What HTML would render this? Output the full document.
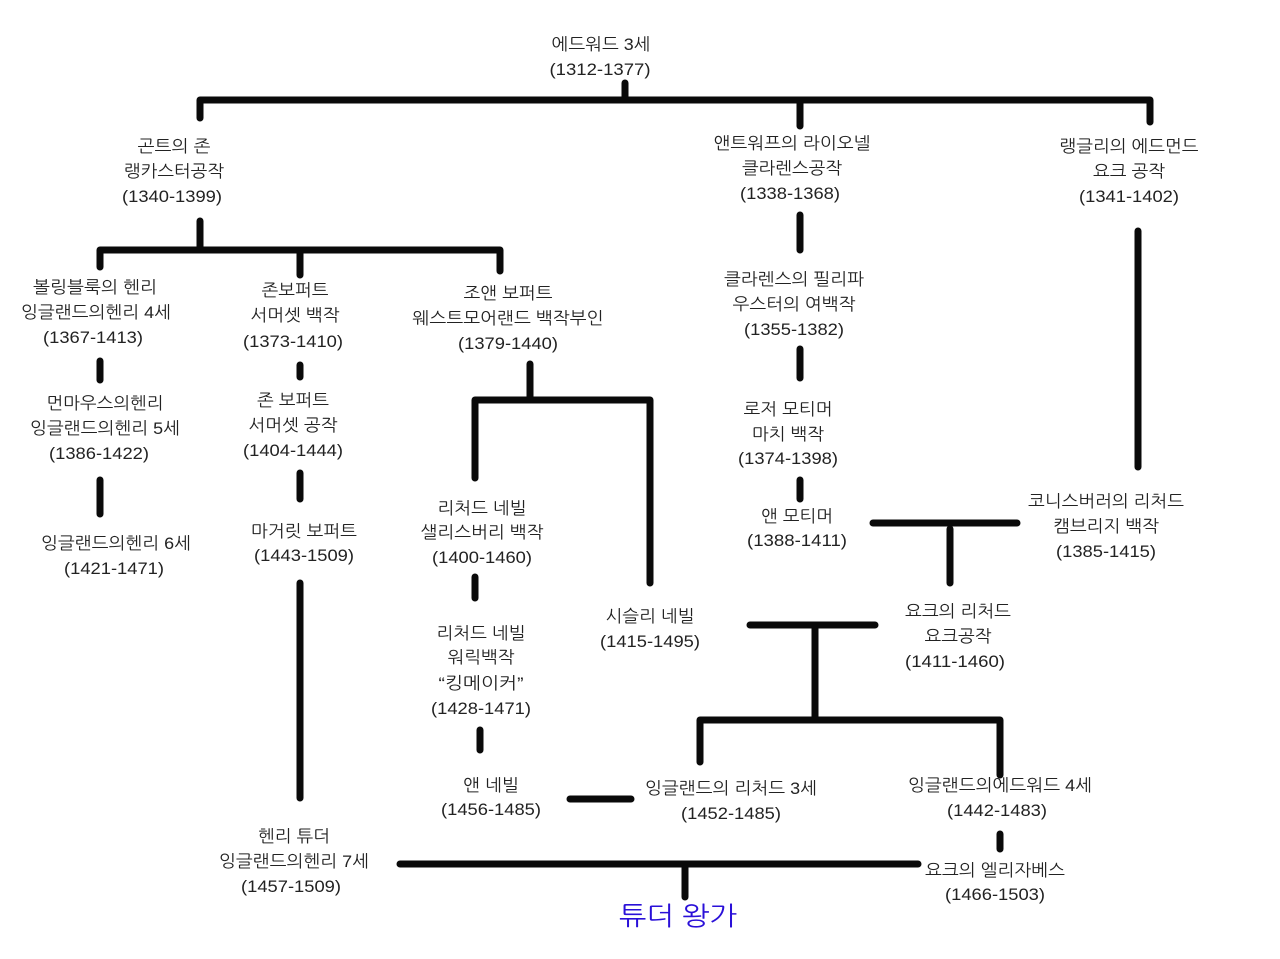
<!DOCTYPE html>
<html lang="ko">
<head>
<meta charset="utf-8">
<title>튜더 왕가</title>
<style>
html,body{margin:0;padding:0;background:#fff}
svg{display:block}
text{font-family:"Liberation Sans","NanumGothic","Noto Sans CJK KR",sans-serif;font-size:17px;fill:#222;text-anchor:middle;letter-spacing:0}
</style>
</head>
<body>
<svg xmlns="http://www.w3.org/2000/svg" width="1280" height="959" viewBox="0 0 1280 959">
<rect width="1280" height="959" fill="#fff"/>
<g stroke="#0a0a0a" stroke-width="7" stroke-linecap="round" stroke-linejoin="round" fill="none">
<path d="M625 83V100M200 118V100H1150V122M800 100V126"/>
<path d="M200 221V250M100 267V250H500V271M300 250V275"/>
<path d="M100 361V380M300 365V377M100 480V514M300 473V499M300 583V798"/>
<path d="M530 364V400M475 478V400H650V583M475 577V598M480 730V750M570 799H631"/>
<path d="M800 215V250M800 349V378M800 480V499M1138 231V467M873 523H1017M950 529V583"/>
<path d="M750 625H875M815 625V718M700 762V720H1000V775M1000 834V849"/>
<path d="M400 864H918M685 864V897"/>
</g>
<text x="601" y="50" textLength="99" lengthAdjust="spacingAndGlyphs">에드워드 3세</text>
<text x="600" y="75" textLength="101" lengthAdjust="spacingAndGlyphs">(1312-1377)</text>

<text x="174" y="152" textLength="73" lengthAdjust="spacingAndGlyphs">곤트의 존</text>
<text x="174" y="177" textLength="100" lengthAdjust="spacingAndGlyphs">랭카스터공작</text>
<text x="172" y="202" textLength="100" lengthAdjust="spacingAndGlyphs">(1340-1399)</text>

<text x="792" y="149" textLength="157" lengthAdjust="spacingAndGlyphs">앤트워프의 라이오넬</text>
<text x="792" y="174" textLength="100" lengthAdjust="spacingAndGlyphs">클라렌스공작</text>
<text x="790" y="199" textLength="100" lengthAdjust="spacingAndGlyphs">(1338-1368)</text>

<text x="1129" y="152" textLength="139" lengthAdjust="spacingAndGlyphs">랭글리의 에드먼드</text>
<text x="1129" y="177" textLength="72" lengthAdjust="spacingAndGlyphs">요크 공작</text>
<text x="1129" y="202" textLength="100" lengthAdjust="spacingAndGlyphs">(1341-1402)</text>

<text x="95" y="293" textLength="124" lengthAdjust="spacingAndGlyphs">볼링블룩의 헨리</text>
<text x="96" y="318" textLength="150" lengthAdjust="spacingAndGlyphs">잉글랜드의헨리 4세</text>
<text x="93" y="343" textLength="100" lengthAdjust="spacingAndGlyphs">(1367-1413)</text>

<text x="295" y="296" textLength="67" lengthAdjust="spacingAndGlyphs">존보퍼트</text>
<text x="295" y="321" textLength="89" lengthAdjust="spacingAndGlyphs">서머셋 백작</text>
<text x="293" y="347" textLength="100" lengthAdjust="spacingAndGlyphs">(1373-1410)</text>

<text x="508" y="299" textLength="89" lengthAdjust="spacingAndGlyphs">조앤 보퍼트</text>
<text x="508" y="324" textLength="191" lengthAdjust="spacingAndGlyphs">웨스트모어랜드 백작부인</text>
<text x="508" y="349" textLength="100" lengthAdjust="spacingAndGlyphs">(1379-1440)</text>

<text x="794" y="285" textLength="140" lengthAdjust="spacingAndGlyphs">클라렌스의 필리파</text>
<text x="794" y="310" textLength="123" lengthAdjust="spacingAndGlyphs">우스터의 여백작</text>
<text x="794" y="335" textLength="100" lengthAdjust="spacingAndGlyphs">(1355-1382)</text>

<text x="105" y="409" textLength="117" lengthAdjust="spacingAndGlyphs">먼마우스의헨리</text>
<text x="105" y="434" textLength="150" lengthAdjust="spacingAndGlyphs">잉글랜드의헨리 5세</text>
<text x="99" y="459" textLength="100" lengthAdjust="spacingAndGlyphs">(1386-1422)</text>

<text x="293" y="406" textLength="72" lengthAdjust="spacingAndGlyphs">존 보퍼트</text>
<text x="293" y="431" textLength="89" lengthAdjust="spacingAndGlyphs">서머셋 공작</text>
<text x="293" y="456" textLength="100" lengthAdjust="spacingAndGlyphs">(1404-1444)</text>

<text x="788" y="415" textLength="89" lengthAdjust="spacingAndGlyphs">로저 모티머</text>
<text x="788" y="440" textLength="72" lengthAdjust="spacingAndGlyphs">마치 백작</text>
<text x="788" y="464" textLength="100" lengthAdjust="spacingAndGlyphs">(1374-1398)</text>

<text x="1106" y="507" textLength="156" lengthAdjust="spacingAndGlyphs">코니스버러의 리처드</text>
<text x="1106" y="532" textLength="106" lengthAdjust="spacingAndGlyphs">캠브리지 백작</text>
<text x="1106" y="557" textLength="100" lengthAdjust="spacingAndGlyphs">(1385-1415)</text>

<text x="797" y="522" textLength="72" lengthAdjust="spacingAndGlyphs">앤 모티머</text>
<text x="797" y="546" textLength="100" lengthAdjust="spacingAndGlyphs">(1388-1411)</text>

<text x="482" y="514" textLength="89" lengthAdjust="spacingAndGlyphs">리처드 네빌</text>
<text x="482" y="538" textLength="123" lengthAdjust="spacingAndGlyphs">샐리스버리 백작</text>
<text x="482" y="563" textLength="100" lengthAdjust="spacingAndGlyphs">(1400-1460)</text>

<text x="116" y="549" textLength="150" lengthAdjust="spacingAndGlyphs">잉글랜드의헨리 6세</text>
<text x="114" y="574" textLength="100" lengthAdjust="spacingAndGlyphs">(1421-1471)</text>

<text x="304" y="537" textLength="106" lengthAdjust="spacingAndGlyphs">마거릿 보퍼트</text>
<text x="304" y="561" textLength="100" lengthAdjust="spacingAndGlyphs">(1443-1509)</text>

<text x="650" y="622" textLength="89" lengthAdjust="spacingAndGlyphs">시슬리 네빌</text>
<text x="650" y="647" textLength="100" lengthAdjust="spacingAndGlyphs">(1415-1495)</text>

<text x="958" y="617" textLength="106" lengthAdjust="spacingAndGlyphs">요크의 리처드</text>
<text x="958" y="642" textLength="67" lengthAdjust="spacingAndGlyphs">요크공작</text>
<text x="955" y="667" textLength="100" lengthAdjust="spacingAndGlyphs">(1411-1460)</text>

<text x="481" y="639" textLength="89" lengthAdjust="spacingAndGlyphs">리처드 네빌</text>
<text x="481" y="663" textLength="67" lengthAdjust="spacingAndGlyphs">워릭백작</text>
<text x="481" y="689" textLength="85" lengthAdjust="spacingAndGlyphs">“킹메이커”</text>
<text x="481" y="714" textLength="100" lengthAdjust="spacingAndGlyphs">(1428-1471)</text>

<text x="491" y="791" textLength="56" lengthAdjust="spacingAndGlyphs">앤 네빌</text>
<text x="491" y="815" textLength="100" lengthAdjust="spacingAndGlyphs">(1456-1485)</text>

<text x="731" y="794" textLength="172" lengthAdjust="spacingAndGlyphs">잉글랜드의 리처드 3세</text>
<text x="731" y="819" textLength="100" lengthAdjust="spacingAndGlyphs">(1452-1485)</text>

<text x="1000" y="791" textLength="184" lengthAdjust="spacingAndGlyphs">잉글랜드의에드워드 4세</text>
<text x="997" y="816" textLength="100" lengthAdjust="spacingAndGlyphs">(1442-1483)</text>

<text x="294" y="842" textLength="72" lengthAdjust="spacingAndGlyphs">헨리 튜더</text>
<text x="294" y="867" textLength="150" lengthAdjust="spacingAndGlyphs">잉글랜드의헨리 7세</text>
<text x="291" y="892" textLength="100" lengthAdjust="spacingAndGlyphs">(1457-1509)</text>

<text x="995" y="876" textLength="140" lengthAdjust="spacingAndGlyphs">요크의 엘리자베스</text>
<text x="995" y="900" textLength="100" lengthAdjust="spacingAndGlyphs">(1466-1503)</text>

<text x="678" y="925" textLength="118" lengthAdjust="spacingAndGlyphs" style="font-size:26px;fill:#2a10d8">튜더 왕가</text>
</svg>
</body>
</html>
